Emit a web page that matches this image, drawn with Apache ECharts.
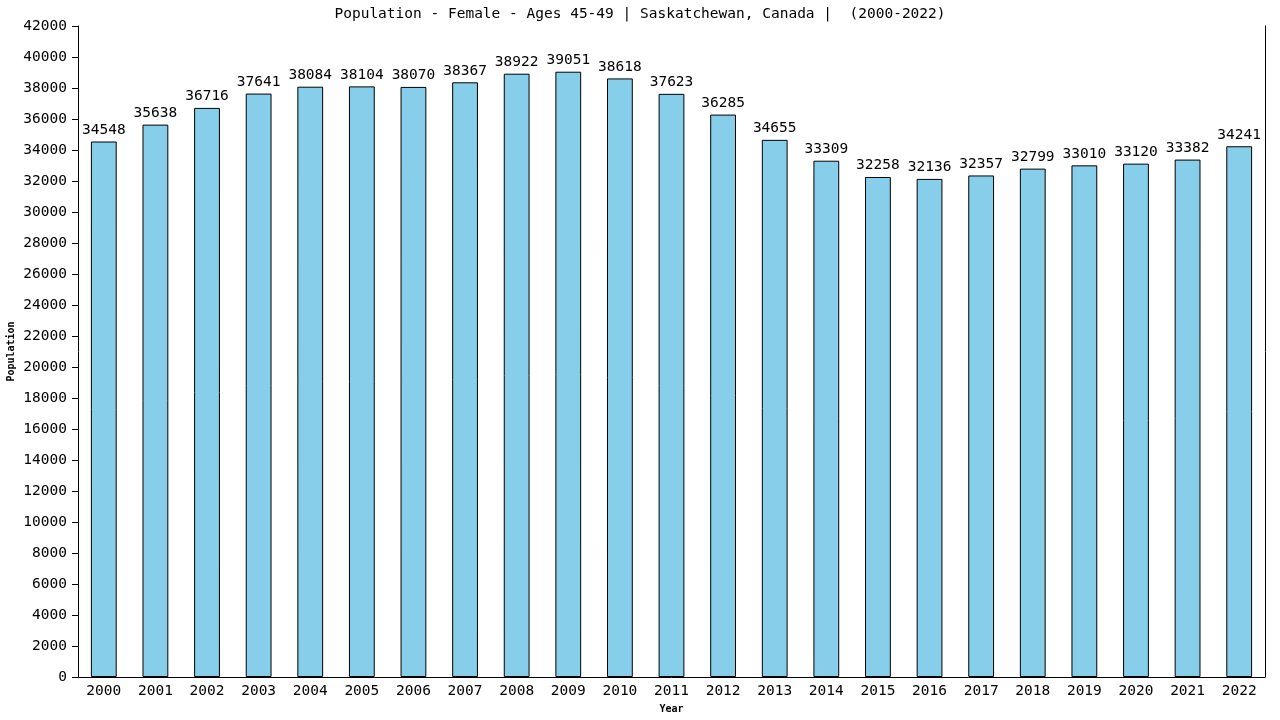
<!DOCTYPE html>
<html>
<head>
<meta charset="utf-8">
<script src="https://cdn.jsdelivr.net/npm/echarts@6/dist/echarts.min.js"></script>
<style>
  body { margin: 0; padding: 0; background: #fff; }
  #chart { width: 1280px; height: 720px; }
</style>
</head>
<body>
<div id="chart"></div>
<script type="text/javascript">
  var years = ['2000', '2001', '2002', '2003', '2004', '2005', '2006', '2007', '2008', '2009', '2010', '2011',
               '2012', '2013', '2014', '2015', '2016', '2017', '2018', '2019', '2020', '2021', '2022'];
  var population = [34548, 35638, 36716, 37641, 38084, 38104, 38070, 38367, 38922, 39051, 38618, 37623,
                    36285, 34655, 33309, 32258, 32136, 32357, 32799, 33010, 33120, 33382, 34241];

  var font = 'DejaVu Sans Mono';
  var myChart = echarts.init(document.getElementById('chart'));
  var option = {
    animation: false,
    backgroundColor: '#fff',
    title: {
      text: 'Population - Female - Ages 45-49 | Saskatchewan, Canada |  (2000-2022)',
      left: 'center',
      top: 2,
      textStyle: { fontFamily: font, fontSize: 14.5, fontWeight: 'normal', color: '#000' }
    },
    grid: { left: 78, right: 15, top: 26, bottom: 43, containLabel: false, outerBoundsMode: 'none' },
    xAxis: {
      type: 'category',
      data: years,
      name: 'Year',
      nameLocation: 'middle',
      nameGap: 27,
      nameMoveOverlap: false,
      nameTextStyle: { fontFamily: font, fontSize: 10, fontWeight: 'bold', color: '#000' },
      axisLine: { lineStyle: { color: '#000', width: 1 } },
      axisTick: { show: false },
      axisLabel: { fontFamily: font, fontSize: 14.5, color: '#000', margin: 7, interval: 0 }
    },
    yAxis: [{
      type: 'value',
      min: 0,
      max: 42000,
      interval: 2000,
      name: 'Population',
      nameLocation: 'middle',
      nameGap: 62,
      nameMoveOverlap: false,
      nameTextStyle: { fontFamily: font, fontSize: 10, fontWeight: 'bold', color: '#000' },
      axisLine: { show: true, lineStyle: { color: '#000', width: 1 } },
      axisTick: { show: true, length: 6, lineStyle: { color: '#000' } },
      axisLabel: {
        fontFamily: font, fontSize: 14.5, color: '#000', margin: 11,
        formatter: function (v) { return String(v); }
      },
      splitLine: { show: false }
    }, {
      type: 'value',
      min: 0,
      max: 42000,
      position: 'right',
      axisLine: { show: true, lineStyle: { color: '#000', width: 1 } },
      axisTick: { show: false },
      axisLabel: { show: false },
      splitLine: { show: false }
    }],
    series: [{
      name: 'Population',
      type: 'bar',
      data: population,
      barWidth: '50%',
      itemStyle: { color: '#87ceeb', borderColor: '#000', borderWidth: 1 },
      label: {
        show: true,
        position: 'top',
        distance: 4,
        fontFamily: font,
        fontSize: 14.5,
        color: '#000'
      }
    }]
  };
  myChart.setOption(option);
</script>
</body>
</html>
